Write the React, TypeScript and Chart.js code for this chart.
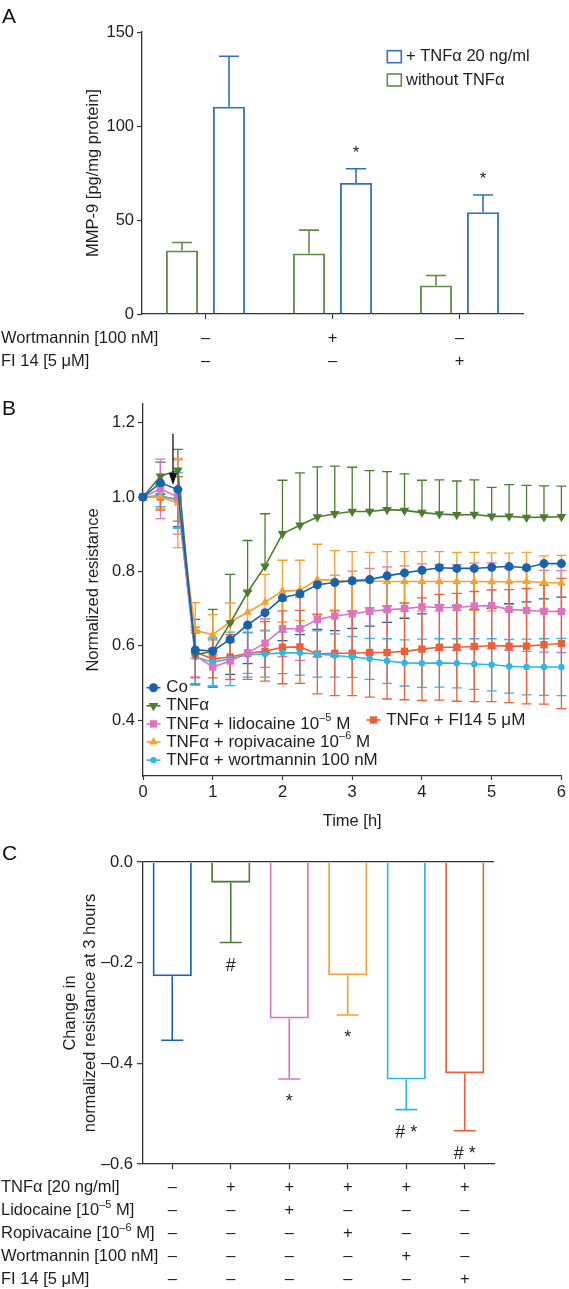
import React, { useEffect, useRef } from 'react';
import { Chart, registerables } from 'chart.js';

Chart.register(...registerables);

const FONT = '"Liberation Sans", Arial, Helvetica, sans-serif';
const TEXT = '#1e1e1e';
const AXIS = '#333333';
const FS = 16.5;

/* ---------------- Panel A data ---------------- */
const aCategories = ['Control', 'Wortmannin', 'FI 14'];
const aWithoutTnf = [33.8, 32.2, 15.2];
const aWithoutTnfErr = [4.2, 12.4, 5.3];
const aWithTnf = [110.2, 69.7, 54.1];
const aWithTnfErr = [26.9, 7.6, 9.2];
const aMarks = ['', '*', '*'];
const aYTicks = [0, 50, 100, 150];
const aLegend = ['+ TNFα 20 ng/ml', 'without TNFα'];
const aRowLabels = ['Wortmannin [100 nM]', 'FI 14 [5 μM]'];
const aRowWortmannin = ['–', '+', '–'];
const aRowFi14 = ['–', '–', '+'];

/* ---------------- Panel B data ---------------- */
const bTimes = [0, 0.25, 0.5, 0.75, 1, 1.25, 1.5, 1.75, 2, 2.25, 2.5, 2.75, 3, 3.25, 3.5, 3.75, 4, 4.25, 4.5, 4.75, 5, 5.25, 5.5, 5.75, 6];
const bCo = [1.0, 1.038, 1.02, 0.589, 0.586, 0.617, 0.656, 0.689, 0.729, 0.74, 0.764, 0.77, 0.775, 0.778, 0.788, 0.796, 0.803, 0.81, 0.808, 0.808, 0.811, 0.813, 0.81, 0.821, 0.821];
const bCoErr = [0, 0.03, 0.1, 0.094, 0.097, 0.094, 0.104, 0.106, 0.115, 0.11, 0.12, 0.129, 0.128, 0.125, 0.125, 0.122, 0.117, 0.1, 0.1, 0.11, 0.11, 0.1, 0.092, 0.095, 0.09];
const bTnf = [1.0, 1.056, 1.072, 0.576, 0.585, 0.661, 0.744, 0.814, 0.901, 0.924, 0.946, 0.955, 0.961, 0.961, 0.966, 0.964, 0.958, 0.954, 0.952, 0.953, 0.948, 0.948, 0.945, 0.946, 0.947];
const bTnfErr = [0, 0.038, 0.056, 0.095, 0.113, 0.131, 0.139, 0.141, 0.144, 0.141, 0.135, 0.128, 0.119, 0.11, 0.102, 0.098, 0.087, 0.092, 0.091, 0.093, 0.078, 0.085, 0.086, 0.084, 0.082];
const bLido = [1.0, 1.022, 1.0, 0.574, 0.543, 0.559, 0.581, 0.607, 0.646, 0.646, 0.671, 0.68, 0.686, 0.693, 0.697, 0.7, 0.705, 0.703, 0.703, 0.707, 0.708, 0.698, 0.695, 0.693, 0.692];
const bLidoErr = [0, 0.08, 0.1, 0.06, 0.05, 0.05, 0.055, 0.065, 0.075, 0.085, 0.1, 0.11, 0.115, 0.115, 0.115, 0.115, 0.115, 0.115, 0.115, 0.115, 0.115, 0.11, 0.11, 0.11, 0.11];
const bRopi = [1.0, 1.0, 0.984, 0.641, 0.63, 0.664, 0.69, 0.717, 0.747, 0.749, 0.778, 0.776, 0.773, 0.774, 0.773, 0.773, 0.773, 0.773, 0.773, 0.773, 0.772, 0.772, 0.773, 0.77, 0.769];
const bRopiErr = [0, 0.03, 0.12, 0.075, 0.054, 0.051, 0.056, 0.075, 0.083, 0.081, 0.095, 0.08, 0.08, 0.077, 0.08, 0.08, 0.08, 0.08, 0.078, 0.078, 0.078, 0.077, 0.078, 0.072, 0.074];
const bWort = [1.0, 1.004, 0.991, 0.57, 0.556, 0.565, 0.576, 0.578, 0.581, 0.581, 0.578, 0.574, 0.57, 0.565, 0.559, 0.554, 0.553, 0.554, 0.553, 0.551, 0.549, 0.545, 0.543, 0.543, 0.543];
const bWortErr = [0, 0.03, 0.075, 0.072, 0.065, 0.072, 0.06, 0.062, 0.056, 0.06, 0.062, 0.058, 0.055, 0.055, 0.06, 0.062, 0.065, 0.065, 0.066, 0.068, 0.07, 0.072, 0.075, 0.076, 0.077];
const bFi14 = [1.0, 1.0, 0.995, 0.583, 0.565, 0.57, 0.58, 0.585, 0.596, 0.597, 0.578, 0.58, 0.58, 0.582, 0.582, 0.585, 0.591, 0.596, 0.596, 0.598, 0.6, 0.599, 0.599, 0.603, 0.606];
const bFi14Err = [0, 0.035, 0.06, 0.067, 0.051, 0.06, 0.07, 0.08, 0.098, 0.098, 0.107, 0.114, 0.114, 0.12, 0.125, 0.13, 0.138, 0.142, 0.145, 0.148, 0.15, 0.152, 0.155, 0.16, 0.175];
const bNames = ['Co', 'TNFα', 'TNFα + lidocaine 10^{–5} M', 'TNFα + ropivacaine 10^{–6} M', 'TNFα + wortmannin 100 nM', 'TNFα + FI14 5 μM'];
const bYTicks = [0.4, 0.6, 0.8, 1.0, 1.2];
const bArrowTime = 0.43;
const bArrowTop = 1.17;
const bArrowTip = 1.032;

/* ---------------- Panel C data ---------------- */
const cCategories = ['Co', 'TNFα', 'TNFα + lidocaine', 'TNFα + ropivacaine', 'TNFα + wortmannin', 'TNFα + FI 14'];
const cValues = [-0.227, -0.041, -0.311, -0.225, -0.432, -0.42];
const cErr = [0.127, 0.119, 0.12, 0.079, 0.06, 0.114];
const cMarks = ['', '#', '*', '*', '# *', '# *'];
const cYTicks = [-0.6, -0.4, -0.2, 0];
const cRowLabels = ['TNFα [20 ng/ml]', 'Lidocaine [10^{–5} M]', 'Ropivacaine [10^{–6} M]', 'Wortmannin [100 nM]', 'FI 14 [5 μM]'];
const cRowTnf = ['–', '+', '+', '+', '+', '+'];
const cRowLido = ['–', '–', '+', '–', '–', '–'];
const cRowRopi = ['–', '–', '–', '+', '–', '–'];
const cRowWort = ['–', '–', '–', '–', '+', '–'];
const cRowFi14 = ['–', '–', '–', '–', '–', '+'];

/* ---------------- styles ---------------- */
const A_GREEN = '#5e8d47';
const A_BLUE = '#2f73b8';
const SERIES_COLORS = ['#1763ad', '#4d7c30', '#dc72c2', '#f6a12d', '#2ab7ea', '#ef5f37'];
const B_STYLES = ['circle', 'triangleDown', 'rect', 'triangle', 'circle', 'rect'];
const B_SIZES = [4.5, 5.5, 5.2, 5, 3.2, 5.2];
const B_DIRS = ['down', 'up', 'both', 'both', 'both', 'both'];

type Seg = { t: string; sup: boolean };
function parseRich(s: string): Seg[] {
  const out: Seg[] = [];
  const re = /\^\{([^}]*)\}/g;
  let last = 0;
  let m: RegExpExecArray | null;
  while ((m = re.exec(s))) {
    if (m.index > last) out.push({ t: s.slice(last, m.index), sup: false });
    out.push({ t: m[1], sup: true });
    last = m.index + m[0].length;
  }
  if (last < s.length) out.push({ t: s.slice(last), sup: false });
  return out;
}

function drawRich(ctx: CanvasRenderingContext2D, s: string, x: number, y: number, size: number, align: 'left' | 'center' = 'left', color = TEXT) {
  const segs = parseRich(s);
  const supSize = Math.round(size * 0.66);
  ctx.save();
  ctx.fillStyle = color;
  ctx.textBaseline = 'middle';
  ctx.textAlign = 'left';
  const widths = segs.map((g) => {
    ctx.font = `${g.sup ? supSize : size}px ${FONT}`;
    return ctx.measureText(g.t).width;
  });
  const total = widths.reduce((a, b) => a + b, 0);
  let cx = align === 'center' ? x - total / 2 : x;
  segs.forEach((g, i) => {
    ctx.font = `${g.sup ? supSize : size}px ${FONT}`;
    ctx.fillText(g.t, cx, g.sup ? y - size * 0.36 : y);
    cx += widths[i];
  });
  ctx.restore();
}

function drawLetter(ctx: CanvasRenderingContext2D, letter: string, baseline: number) {
  ctx.save();
  ctx.fillStyle = '#111';
  ctx.font = `21px ${FONT}`;
  ctx.textAlign = 'left';
  ctx.textBaseline = 'alphabetic';
  ctx.fillText(letter, 2, baseline);
  ctx.restore();
}

function drawMarker(ctx: CanvasRenderingContext2D, style: string, x: number, y: number, r: number, color: string) {
  ctx.save();
  ctx.fillStyle = color;
  ctx.beginPath();
  if (style === 'circle') {
    ctx.arc(x, y, r, 0, Math.PI * 2);
  } else if (style === 'rect') {
    const s = r * Math.SQRT1_2;
    ctx.rect(x - s, y - s, 2 * s, 2 * s);
  } else {
    const rot = style === 'triangleDown' ? Math.PI : 0;
    for (let k = 0; k < 3; k++) {
      const a = rot + (k * 2 * Math.PI) / 3;
      const px = x + Math.sin(a) * r;
      const py = y - Math.cos(a) * r;
      if (k === 0) ctx.moveTo(px, py);
      else ctx.lineTo(px, py);
    }
    ctx.closePath();
  }
  ctx.fill();
  ctx.restore();
}

function drawBarErrors(chart: any, capHalf: number, lw: number) {
  const { ctx } = chart;
  const y = chart.scales.y;
  chart.data.datasets.forEach((ds: any, di: number) => {
    if (!ds.errs) return;
    const meta = chart.getDatasetMeta(di);
    meta.data.forEach((bar: any, i: number) => {
      const v = ds.data[i];
      const e = ds.errs[i];
      const end = v >= 0 ? v + e : v - e;
      const y0 = y.getPixelForValue(v);
      const y1 = y.getPixelForValue(end);
      const color = Array.isArray(ds.borderColor) ? ds.borderColor[i] : ds.borderColor;
      ctx.save();
      ctx.strokeStyle = color;
      ctx.lineWidth = lw;
      ctx.beginPath();
      ctx.moveTo(bar.x, y0);
      ctx.lineTo(bar.x, y1);
      ctx.moveTo(bar.x - capHalf, y1);
      ctx.lineTo(bar.x + capHalf, y1);
      ctx.stroke();
      ctx.restore();
    });
  });
}

const tickFont = { family: FONT, size: FS };
const titleFont = { family: FONT, size: FS };
const border = { display: true, color: AXIS, width: 1.3 };

/* ---------------- Panel A ---------------- */
const panelAPlugin = {
  id: 'panelA',
  afterDatasetsDraw(chart: any) {
    drawBarErrors(chart, 10, 1.6);
  },
  afterDraw(chart: any) {
    const { ctx, chartArea } = chart;
    const x = chart.scales.x;
    const y = chart.scales.y;
    const meta = chart.getDatasetMeta(1);
    ctx.save();
    ctx.fillStyle = TEXT;
    ctx.font = `17px ${FONT}`;
    ctx.textAlign = 'center';
    ctx.textBaseline = 'alphabetic';
    aMarks.forEach((m, i) => {
      if (!m) return;
      const py = y.getPixelForValue(aWithTnf[i] + aWithTnfErr[i]) - 10.5;
      ctx.fillText(m, meta.data[i].x, py);
    });
    ctx.restore();
    // legend
    const colors = [A_BLUE, A_GREEN];
    aLegend.forEach((lab, i) => {
      const bx = chartArea.right - 135.7;
      const cy = chartArea.top + 24.7 + i * 23.3;
      ctx.save();
      ctx.strokeStyle = colors[i];
      ctx.lineWidth = 1.6;
      ctx.strokeRect(bx, cy - 6, 14, 12);
      ctx.restore();
      drawRich(ctx, lab, bx + 18.7, cy, FS);
    });
    // rows
    const rows = [aRowWortmannin, aRowFi14];
    rows.forEach((row, r) => {
      const ry = chartArea.bottom + 24 + r * 23.8;
      drawRich(ctx, aRowLabels[r], 1, ry, FS);
      row.forEach((sym, i) => drawRich(ctx, sym, x.getPixelForValue(i), ry, FS, 'center'));
    });
    drawLetter(ctx, 'A', 23);
  },
};

function makeA(canvas: HTMLCanvasElement) {
  return new Chart(canvas, {
    type: 'bar',
    data: {
      labels: aCategories,
      datasets: [
        { label: aLegend[1], data: aWithoutTnf, errs: aWithoutTnfErr, borderColor: A_GREEN, backgroundColor: 'rgba(255,255,255,0)', borderWidth: 1.8, categoryPercentage: 0.74, barPercentage: 0.68 } as any,
        { label: aLegend[0], data: aWithTnf, errs: aWithTnfErr, borderColor: A_BLUE, backgroundColor: 'rgba(255,255,255,0)', borderWidth: 1.8, categoryPercentage: 0.74, barPercentage: 0.68 } as any,
      ],
    },
    options: {
      responsive: false,
      animation: false,
      events: [],
      layout: { padding: { left: 0, right: 46, top: 32, bottom: 0 } },
      plugins: { legend: { display: false }, tooltip: { enabled: false } },
      scales: {
        x: {
          grid: { display: true, drawOnChartArea: false, drawTicks: true, tickLength: 5, tickColor: AXIS, tickWidth: 1.2, offset: false },
          border,
          ticks: { display: false },
          afterFit: (s: any) => { s.height = 66; },
        },
        y: {
          min: 0,
          max: 150,
          afterBuildTicks: (s: any) => { s.ticks = aYTicks.map((v) => ({ value: v })); },
          ticks: { font: tickFont, color: TEXT, padding: 3 },
          grid: { display: true, drawOnChartArea: false, drawTicks: true, tickLength: 5, tickColor: AXIS, tickWidth: 1.2 },
          border,
          title: { display: true, text: 'MMP-9 [pg/mg protein]', font: titleFont, color: TEXT, padding: { top: 83.4, bottom: 0 } },
          afterFit: (s: any) => { s.width = 142; },
        },
      },
    } as any,
    plugins: [panelAPlugin],
  });
}

/* ---------------- Panel B ---------------- */
const panelBPlugin = {
  id: 'panelB',
  beforeDatasetsDraw(chart: any) {
    const { ctx } = chart;
    const x = chart.scales.x;
    const y = chart.scales.y;
    chart.data.datasets.forEach((ds: any) => {
      ctx.save();
      ctx.strokeStyle = ds.borderColor;
      ctx.lineWidth = 1.3;
      ds.data.forEach((p: any, i: number) => {
        const e = ds.errs[i];
        if (!e) return;
        const px = x.getPixelForValue(p.x);
        const py = y.getPixelForValue(p.y);
        const ends: number[] = [];
        if (ds.errDir !== 'down') ends.push(p.y + e);
        if (ds.errDir !== 'up') ends.push(p.y - e);
        ends.forEach((v) => {
          const ey = y.getPixelForValue(v);
          ctx.beginPath();
          ctx.moveTo(px, py);
          ctx.lineTo(px, ey);
          ctx.moveTo(px - 5, ey);
          ctx.lineTo(px + 5, ey);
          ctx.stroke();
        });
      });
      ctx.restore();
    });
  },
  afterDraw(chart: any) {
    const { ctx, chartArea } = chart;
    const x = chart.scales.x;
    const y = chart.scales.y;
    // arrow
    const ax = x.getPixelForValue(bArrowTime);
    const aTop = y.getPixelForValue(bArrowTop);
    const aTip = y.getPixelForValue(bArrowTip);
    ctx.save();
    ctx.strokeStyle = '#111';
    ctx.fillStyle = '#111';
    ctx.lineWidth = 1.3;
    ctx.beginPath();
    ctx.moveTo(ax, aTop);
    ctx.lineTo(ax, aTip - 10);
    ctx.stroke();
    ctx.beginPath();
    ctx.moveTo(ax - 4.2, aTip - 12);
    ctx.lineTo(ax + 4.2, aTip - 12);
    ctx.lineTo(ax, aTip);
    ctx.closePath();
    ctx.fill();
    ctx.restore();
    // legend
    bNames.forEach((lab, i) => {
      let mx: number;
      let my: number;
      if (i < 5) {
        mx = chartArea.left + 10.5;
        my = chartArea.bottom - 88.3 + i * 18.1;
      } else {
        mx = chartArea.left + 230.5;
        my = chartArea.bottom - 56;
      }
      const color = SERIES_COLORS[i];
      ctx.save();
      ctx.strokeStyle = color;
      ctx.lineWidth = 1.6;
      ctx.beginPath();
      ctx.moveTo(mx - 7, my);
      ctx.lineTo(mx + 7, my);
      ctx.stroke();
      ctx.restore();
      drawMarker(ctx, B_STYLES[i], mx, my, B_SIZES[i], color);
      drawRich(ctx, lab, mx + 12.7, my, 17);
    });
    drawLetter(ctx, 'B', 35);
  },
};

function makeB(canvas: HTMLCanvasElement) {
  const series = [
    [bCo, bCoErr],
    [bTnf, bTnfErr],
    [bLido, bLidoErr],
    [bRopi, bRopiErr],
    [bWort, bWortErr],
    [bFi14, bFi14Err],
  ];
  const datasets = series.map(([vals, errs], i) => {
    const style = B_STYLES[i];
    return {
      label: bNames[i],
      data: vals.map((v, k) => ({ x: bTimes[k], y: v })),
      errs,
      errDir: B_DIRS[i],
      borderColor: SERIES_COLORS[i],
      backgroundColor: SERIES_COLORS[i],
      pointBackgroundColor: SERIES_COLORS[i],
      pointBorderColor: SERIES_COLORS[i],
      pointBorderWidth: 0,
      pointStyle: style === 'triangleDown' ? 'triangle' : style,
      pointRotation: style === 'triangleDown' ? 180 : 0,
      pointRadius: B_SIZES[i],
      borderWidth: 1.6,
      tension: 0,
      clip: false,
    } as any;
  });
  return new Chart(canvas, {
    type: 'line',
    data: { datasets },
    options: {
      responsive: false,
      animation: false,
      events: [],
      layout: { padding: { left: 0, right: 6, top: 24, bottom: 0 } },
      plugins: { legend: { display: false }, tooltip: { enabled: false } },
      scales: {
        x: {
          type: 'linear',
          min: 0,
          max: 6,
          ticks: { stepSize: 1, font: tickFont, color: TEXT, padding: 3 },
          grid: { display: true, drawOnChartArea: false, drawTicks: true, tickLength: 4, tickColor: AXIS, tickWidth: 1.2 },
          border,
          title: { display: true, text: 'Time [h]', font: titleFont, color: TEXT, padding: { top: 0, bottom: 4 } },
          afterFit: (s: any) => { s.height = 59; },
        },
        y: {
          type: 'linear',
          min: 0.25,
          max: 1.25,
          afterBuildTicks: (s: any) => { s.ticks = bYTicks.map((v) => ({ value: v })); },
          ticks: { font: tickFont, color: TEXT, padding: 3, callback: (v: any) => Number(v).toFixed(1) },
          grid: { display: true, drawOnChartArea: false, drawTicks: true, tickLength: 5, tickColor: AXIS, tickWidth: 1.2 },
          border,
          title: { display: true, text: 'Normalized resistance', font: titleFont, color: TEXT, padding: { top: 83.7, bottom: 0 } },
          afterFit: (s: any) => { s.width = 143; },
        },
      },
    } as any,
    plugins: [panelBPlugin],
  });
}

/* ---------------- Panel C ---------------- */
const panelCPlugin = {
  id: 'panelC',
  afterDatasetsDraw(chart: any) {
    drawBarErrors(chart, 11, 1.6);
  },
  afterDraw(chart: any) {
    const { ctx, chartArea } = chart;
    const x = chart.scales.x;
    const y = chart.scales.y;
    ctx.save();
    ctx.fillStyle = TEXT;
    ctx.font = `18px ${FONT}`;
    ctx.textAlign = 'center';
    ctx.textBaseline = 'alphabetic';
    cMarks.forEach((m, i) => {
      if (!m) return;
      const py = y.getPixelForValue(cValues[i] - cErr[i]) + 28;
      ctx.fillText(m, x.getPixelForValue(i), py);
    });
    ctx.restore();
    const rows = [cRowTnf, cRowLido, cRowRopi, cRowWort, cRowFi14];
    rows.forEach((row, r) => {
      const ry = chartArea.bottom + 23.5 + r * 23;
      drawRich(ctx, cRowLabels[r], 1, ry, FS);
      row.forEach((sym, i) => drawRich(ctx, sym, x.getPixelForValue(i), ry, FS, 'center'));
    });
    drawLetter(ctx, 'C', 25);
  },
};

function makeC(canvas: HTMLCanvasElement) {
  return new Chart(canvas, {
    type: 'bar',
    data: {
      labels: cCategories,
      datasets: [
        { label: 'Change at 3 h', data: cValues, errs: cErr, borderColor: SERIES_COLORS, backgroundColor: 'rgba(255,255,255,0)', borderWidth: 1.8, categoryPercentage: 1, barPercentage: 0.67 } as any,
      ],
    },
    options: {
      responsive: false,
      animation: false,
      events: [],
      layout: { padding: { left: 0, right: 75, top: 27, bottom: 0 } },
      plugins: { legend: { display: false }, tooltip: { enabled: false } },
      scales: {
        x: {
          grid: { display: true, drawOnChartArea: false, drawTicks: true, tickLength: 5, tickColor: AXIS, tickWidth: 1.2, offset: false },
          border,
          ticks: { display: false },
          afterFit: (s: any) => { s.height = 125; },
        },
        y: {
          min: -0.6,
          max: 0,
          afterBuildTicks: (s: any) => { s.ticks = cYTicks.map((v) => ({ value: v })); },
          ticks: { font: tickFont, color: TEXT, padding: 4, callback: (v: any) => (Math.abs(v) < 1e-9 ? '0.0' : '–' + Math.abs(v).toFixed(1)) },
          grid: {
            display: true,
            drawOnChartArea: true,
            drawTicks: true,
            tickLength: 6,
            tickColor: AXIS,
            tickWidth: 1.2,
            lineWidth: 1.3,
            color: (c: any) => (c.tick && Math.abs(c.tick.value) < 1e-9 ? AXIS : 'rgba(0,0,0,0)'),
          },
          border,
          title: { display: true, text: ['Change in', 'normalized resistance at 3 hours'], font: { family: FONT, size: FS, lineHeight: 1.25 }, color: TEXT, padding: { top: 59.7, bottom: 0 } },
          afterFit: (s: any) => { s.width = 143; },
        },
      },
    } as any,
    plugins: [panelCPlugin],
  });
}

export default function App() {
  const aRef = useRef<HTMLCanvasElement>(null);
  const bRef = useRef<HTMLCanvasElement>(null);
  const cRef = useRef<HTMLCanvasElement>(null);
  useEffect(() => {
    const charts: Chart[] = [];
    if (aRef.current) charts.push(makeA(aRef.current));
    if (bRef.current) charts.push(makeB(bRef.current));
    if (cRef.current) charts.push(makeC(cRef.current));
    return () => charts.forEach((c) => c.destroy());
  }, []);
  return (
    <div style={{ position: 'absolute', left: 0, top: 0, width: 569, height: 1289, background: '#fff', overflow: 'hidden' }}>
      <canvas ref={aRef} width={569} height={380} style={{ position: 'absolute', left: 0, top: 0, width: 569, height: 380 }} />
      <canvas ref={bRef} width={569} height={455} style={{ position: 'absolute', left: 0, top: 380, width: 569, height: 455 }} />
      <canvas ref={cRef} width={569} height={454} style={{ position: 'absolute', left: 0, top: 835, width: 569, height: 454 }} />
    </div>
  );
}
